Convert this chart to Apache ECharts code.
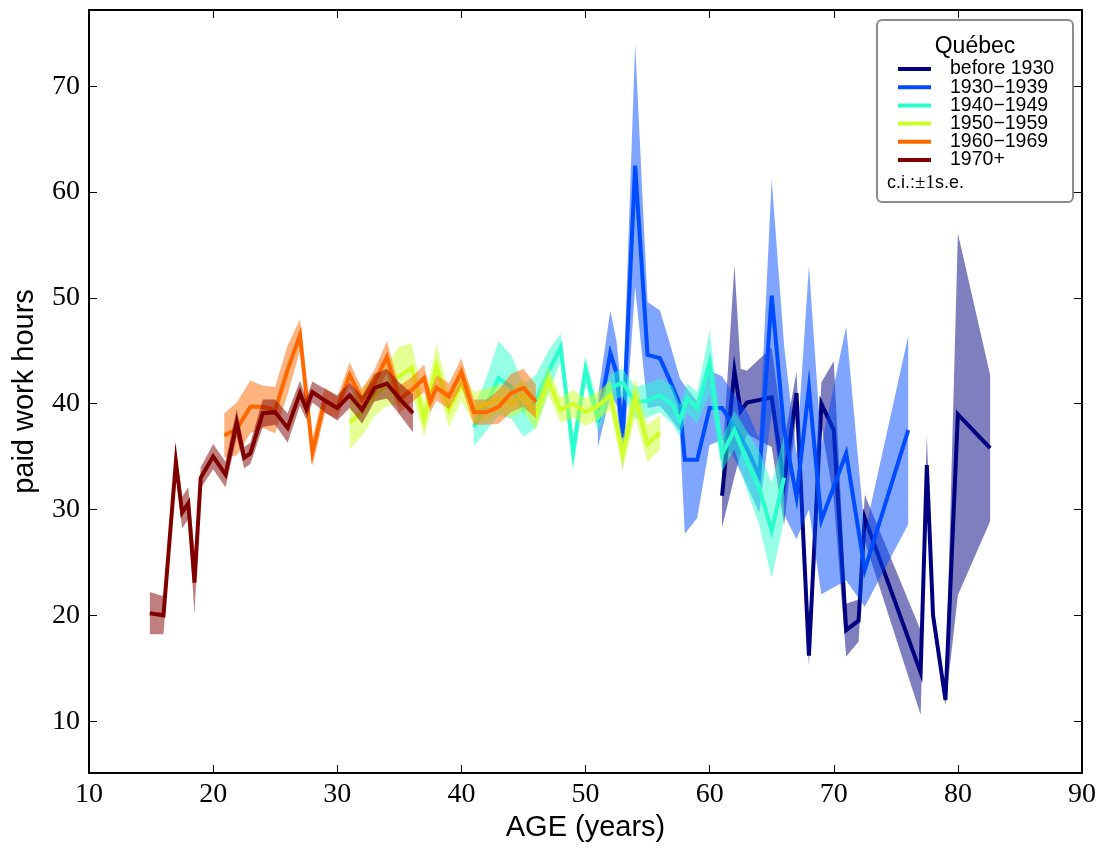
<!DOCTYPE html>
<html>
<head>
<meta charset="utf-8">
<title>Québec — paid work hours by age and birth cohort</title>
<script src="https://cdn.jsdelivr.net/npm/echarts@6/dist/echarts.min.js"></script>
<style>
  html, body { margin: 0; padding: 0; background: #ffffff; }
  #chart { width: 1105px; height: 848px; }
</style>
</head>
<body>
<div id="chart"></div>
<script>
// Mean paid work hours by age for each birth cohort, with ±1 standard error.
const cohortNames = ['before 1930', '1930\u22121939', '1940\u22121949', '1950\u22121959', '1960\u22121969', '1970+'];
const cohortColors = ['#000080', '#004cff', '#29ffce', '#ceff29', '#ff6800', '#800000'];

const agesPre1930 = [61, 62, 62.5, 63, 65, 66, 67, 68, 69, 70, 71, 72, 72.5, 77, 77.5, 78, 79, 80, 82.6];
const meanPre1930 = [31.3, 43.1, 39.3, 40.1, 40.6, 32.5, 41.0, 16.2, 40.0, 37.5, 18.6, 19.5, 29.2, 14.6, 34.2, 20.0, 12.0, 39.0, 35.8];
const sePre1930   = [3.0, 10.0, 4.0, 3.0, 4.7, 4.0, 2.0, 1.0, 2.0, 6.5, 2.5, 2.0, 2.2, 4.0, 2.8, 1.0, 0.5, 17.1, 6.9];

const ages1930s = [51, 52, 52.5, 53, 54, 55, 56, 56.8, 57.6, 58, 59, 60, 61, 62, 63, 64, 65, 66, 67, 68, 69, 71, 72.5, 76];
const mean1930s = [38.3, 44.8, 42.9, 36.8, 62.5, 44.6, 44.3, 42.2, 39.9, 34.7, 34.7, 39.6, 39.6, 37.8, 35.8, 33.2, 50.2, 37.5, 31.2, 41.5, 29.0, 35.3, 24.3, 37.5];
const se1930s   = [2.4, 4.0, 3.0, 3.0, 11.5, 5.0, 4.5, 3.5, 2.5, 7.0, 5.5, 3.5, 3.0, 3.0, 3.5, 3.5, 11.0, 8.0, 4.0, 11.5, 7.0, 12.0, 3.5, 8.9];

const ages1940s = [41, 42, 43, 44, 45, 46, 47, 48, 49, 50, 51, 52, 53, 54, 55, 56, 57, 57.6, 58.2, 59, 60, 61, 62, 63, 64, 65, 66];
const mean1940s = [37.8, 39.9, 42.4, 41.6, 39.4, 40.2, 43.0, 45.3, 35.4, 43.2, 38.6, 41.5, 42.0, 40.1, 40.3, 40.8, 39.9, 38.4, 40.5, 39.6, 43.9, 35.2, 37.5, 34.6, 32.0, 28.0, 33.0];
const se1940s   = [1.8, 2.5, 3.5, 3.0, 2.5, 2.5, 2.0, 1.3, 1.6, 1.3, 1.3, 1.3, 1.3, 1.5, 1.6, 1.6, 1.8, 1.5, 1.4, 1.5, 3.0, 1.6, 1.8, 2.8, 3.5, 4.5, 4.0];

const ages1950s = [31, 32, 33, 34, 35, 36, 37, 38, 39, 40, 41, 42, 43, 44, 45, 46, 47, 48, 49, 50, 51, 52, 53, 54, 55, 56];
const mean1950s = [38.2, 39.2, 40.8, 41.8, 42.6, 43.4, 38.5, 43.6, 39.4, 41.8, 39.6, 39.9, 40.5, 40.0, 40.8, 38.9, 42.2, 39.4, 40.0, 39.2, 39.8, 40.8, 35.2, 40.6, 36.2, 37.3];
const se1950s   = [2.5, 2.2, 2.0, 2.0, 2.8, 2.3, 1.6, 2.0, 1.6, 1.5, 1.5, 1.5, 1.3, 1.3, 1.5, 1.4, 1.3, 1.2, 1.3, 1.3, 1.3, 1.4, 1.5, 1.8, 1.8, 1.6];

const ages1960s = [20.9, 21.9, 23, 24, 25, 26, 27, 28, 29, 30, 31, 32, 33, 34, 35, 36, 37, 37.5, 38, 39, 40, 41, 42, 43, 44, 45, 46];
const mean1960s = [37.0, 37.6, 39.7, 39.7, 39.4, 43.2, 46.5, 35.4, 40.3, 39.6, 42.7, 40.4, 42.0, 44.4, 40.4, 41.3, 42.4, 40.2, 41.5, 40.7, 43.0, 39.2, 39.2, 39.7, 41.0, 41.5, 40.2];
const se1960s   = [2.1, 2.5, 2.5, 2.0, 2.2, 2.3, 1.5, 1.3, 1.2, 1.0, 1.2, 1.0, 1.2, 1.5, 1.3, 1.2, 1.3, 1.0, 1.2, 1.2, 1.3, 1.2, 1.2, 1.6, 1.8, 1.8, 1.6];

const ages1970s = [14.9, 16, 17, 17.5, 18, 18.5, 19, 20, 21, 21.9, 22.5, 23, 24, 25, 26, 27, 27.5, 28, 29, 30, 31, 32, 33, 34, 35, 36.1];
const mean1970s = [20.2, 20.0, 34.5, 29.7, 30.6, 23.1, 33.0, 35.0, 33.3, 38.2, 34.9, 35.3, 39.1, 39.2, 37.7, 41.0, 39.5, 41.1, 40.3, 39.6, 40.8, 39.4, 41.5, 41.9, 40.5, 39.1];
const se1970s   = [2.0, 1.8, 1.2, 1.5, 1.5, 3.0, 1.0, 1.2, 1.2, 1.3, 1.0, 1.0, 1.3, 1.2, 1.4, 1.2, 1.0, 1.0, 1.1, 1.2, 1.2, 1.3, 1.3, 1.4, 1.5, 1.8];

const xTicks = [10, 20, 30, 40, 50, 60, 70, 80, 90];
const yTicks = [10, 20, 30, 40, 50, 60, 70];

const cohortAges = [agesPre1930, ages1930s, ages1940s, ages1950s, ages1960s, ages1970s];
const cohortMeans = [meanPre1930, mean1930s, mean1940s, mean1950s, mean1960s, mean1970s];
const cohortSEs = [sePre1930, se1930s, se1940s, se1950s, se1960s, se1970s];

const tickFont = 'Liberation Serif, DejaVu Serif, serif';
const textFont = 'Liberation Sans, Arial, sans-serif';

// Shaded ±1 s.e. band drawn as one polygon through the cartesian coordinate system.
function bandSeries(i) {
  const ages = cohortAges[i], mean = cohortMeans[i], se = cohortSEs[i];
  return {
    type: 'custom',
    name: cohortNames[i] + ' band',
    z: 10 + 2 * i,
    silent: true,
    data: [[ages[0], mean[0]]],
    renderItem: function (params, api) {
      const pts = [];
      for (let k = 0; k < ages.length; k++) pts.push(api.coord([ages[k], mean[k] + se[k]]));
      for (let k = ages.length - 1; k >= 0; k--) pts.push(api.coord([ages[k], mean[k] - se[k]]));
      return {
        type: 'polygon',
        shape: { points: pts },
        style: { fill: cohortColors[i], opacity: 0.5 }
      };
    }
  };
}

function lineSeries(i) {
  const ages = cohortAges[i], mean = cohortMeans[i];
  return {
    type: 'line',
    name: cohortNames[i],
    z: 11 + 2 * i,
    data: ages.map((a, k) => [a, mean[k]]),
    showSymbol: false,
    symbol: 'none',
    silent: true,
    color: cohortColors[i],
    lineStyle: { width: 4, color: cohortColors[i], join: 'miter', cap: 'butt' }
  };
}

const series = [];
for (let i = 0; i < cohortNames.length; i++) {
  series.push(bandSeries(i));
  series.push(lineSeries(i));
}

function frameAxis(extra) {
  return Object.assign({
    type: 'value',
    axisLine: { show: true, onZero: false, lineStyle: { color: '#000', width: 2 } },
    axisTick: { show: true, inside: true, length: 8, lineStyle: { color: '#000', width: 1 } },
    splitLine: { show: false }
  }, extra);
}

const option = {
  animation: false,
  backgroundColor: '#ffffff',
  grid: { left: 89, right: 23, top: 10, bottom: 75, containLabel: false },
  xAxis: [
    frameAxis({
      position: 'bottom', min: 10, max: 90,
      name: 'AGE (years)', nameLocation: 'middle', nameGap: 37,
      nameTextStyle: { fontFamily: textFont, fontSize: 29, color: '#000' },
      axisTick: { show: true, inside: true, length: 8, customValues: xTicks, lineStyle: { color: '#000', width: 1 } },
      axisLabel: { customValues: xTicks, fontFamily: tickFont, fontSize: 28, color: '#000', margin: 8 }
    }),
    frameAxis({
      position: 'top', min: 10, max: 90,
      axisTick: { show: true, inside: true, length: 8, customValues: xTicks, lineStyle: { color: '#000', width: 1 } },
      axisLabel: { show: false }
    })
  ],
  yAxis: [
    frameAxis({
      position: 'left', min: 5.1, max: 77.2,
      name: 'paid work hours', nameLocation: 'middle', nameGap: 50, nameRotate: 90,
      nameTextStyle: { fontFamily: textFont, fontSize: 29, color: '#000' },
      axisTick: { show: true, inside: true, length: 8, customValues: yTicks, lineStyle: { color: '#000', width: 1 } },
      axisLabel: { customValues: yTicks, fontFamily: tickFont, fontSize: 28, color: '#000', margin: 9 }
    }),
    frameAxis({
      position: 'right', min: 5.1, max: 77.2,
      axisTick: { show: true, inside: true, length: 8, customValues: yTicks, lineStyle: { color: '#000', width: 1 } },
      axisLabel: { show: false }
    })
  ],
  legend: {
    data: cohortNames,
    orient: 'vertical',
    left: 893,
    top: 54,
    z: 30,
    selectedMode: false,
    icon: 'rect',
    itemWidth: 33,
    itemHeight: 4,
    itemGap: -1.8,
    textStyle: { fontFamily: textFont, fontSize: 19.5, lineHeight: 18, color: '#000', padding: [0, 0, 0, 14] }
  },
  graphic: [
    {
      type: 'rect', z: 25, silent: true,
      shape: { x: 877, y: 20, width: 196, height: 182, r: 5 },
      style: { fill: '#ffffff', stroke: '#8c8c8c', lineWidth: 2 }
    },
    {
      type: 'text', z: 30, silent: true,
      x: 975, y: 47,
      style: { text: 'Québec', fontFamily: textFont, fontSize: 23, fill: '#000', align: 'center', verticalAlign: 'middle' }
    },
    {
      type: 'text', z: 30, silent: true,
      x: 887, y: 183,
      style: {
        text: 'c.i.:{m|±1}s.e.',
        fontFamily: textFont, fontSize: 18, fill: '#000', align: 'left', verticalAlign: 'middle',
        rich: { m: { fontFamily: tickFont, fontSize: 19, fill: '#000' } }
      }
    }
  ],
  series: series
};

const chart = echarts.init(document.getElementById('chart'), null, { renderer: 'canvas' });
chart.setOption(option);
</script>
</body>
</html>
